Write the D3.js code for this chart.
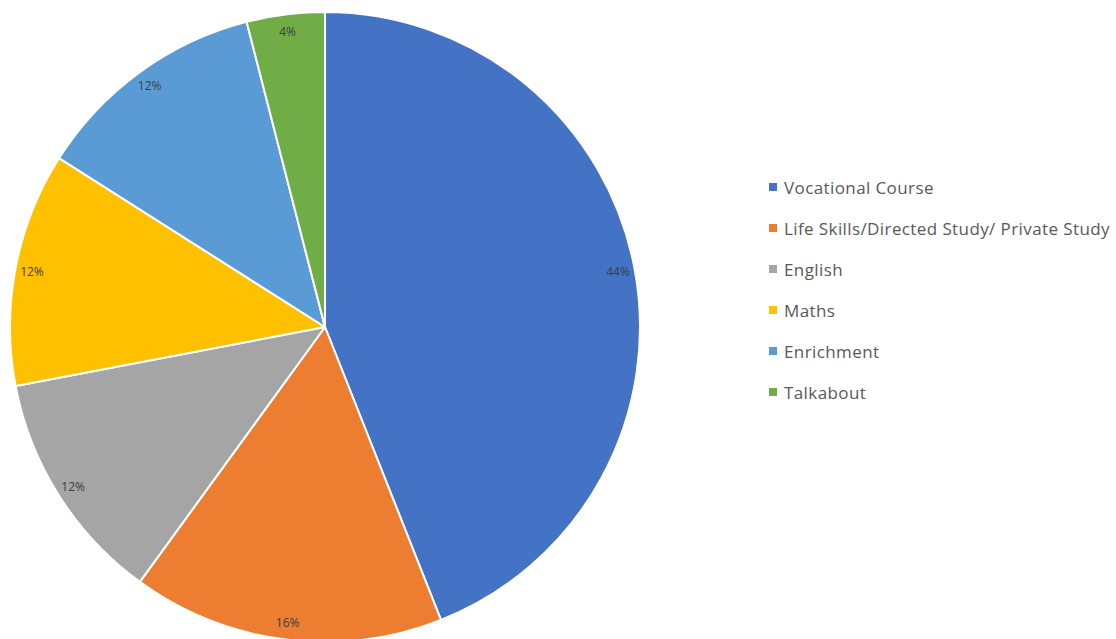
<!DOCTYPE html>
<html>
<head>
<meta charset="utf-8">
<script src="https://cdn.jsdelivr.net/npm/d3@7"></script>
<style>
  html, body { margin: 0; padding: 0; background: #fff; }
  svg { display: block; }
</style>
</head>
<body>
<svg id="chart" width="1116" height="639"></svg>
<script>
// Share of timetable by activity (percent)
const categories = [
  "Vocational Course",
  "Life Skills/Directed Study/ Private Study",
  "English",
  "Maths",
  "Enrichment",
  "Talkabout"
];
const values = [44, 16, 12, 12, 12, 4];
const colors = ["#4472C4", "#ED7D31", "#A5A5A5", "#FFC000", "#5B9BD5", "#70AD47"];

const svg = d3.select("#chart");
const cx = 325, cy = 327, radius = 315;

const data = categories.map((c, i) => ({ name: c, value: values[i], color: colors[i] }));

const pie = d3.pie().value(d => d.value).sort(null);
const arc = d3.arc().innerRadius(0).outerRadius(radius);
const labelR = radius * 0.947;
const labelArc = d3.arc().innerRadius(labelR).outerRadius(labelR);

const g = svg.append("g").attr("transform", `translate(${cx},${cy})`);
const arcs = pie(data);

g.selectAll("path.slice")
  .data(arcs)
  .join("path")
  .attr("class", "slice")
  .attr("d", arc)
  .attr("fill", d => d.data.color)
  .attr("stroke", "#ffffff")
  .attr("stroke-width", 2)
  .attr("stroke-linejoin", "round");

g.selectAll("text.pct")
  .data(arcs)
  .join("text")
  .attr("class", "pct")
  .attr("transform", d => `translate(${labelArc.centroid(d)})`)
  .attr("text-anchor", "middle")
  .attr("dominant-baseline", "central")
  .attr("font-family", "'Open Sans', 'DejaVu Sans', sans-serif")
  .attr("font-size", 12)
  .attr("fill", "#404040")
  .text(d => d.data.value + "%");

// Legend
const legendX = 769, legendY = 187, legendStep = 41;
const legend = svg.append("g");
const items = legend.selectAll("g.item")
  .data(data)
  .join("g")
  .attr("class", "item")
  .attr("transform", (d, i) => `translate(${legendX},${legendY + i * legendStep})`);

items.append("rect")
  .attr("x", 0).attr("y", -4)
  .attr("width", 8).attr("height", 8)
  .attr("fill", d => d.color);

items.append("text")
  .attr("x", 15)
  .attr("y", 0)
  .attr("dominant-baseline", "central")
  .attr("font-family", "'Open Sans', 'DejaVu Sans', sans-serif")
  .attr("font-size", 17)
  .attr("letter-spacing", 0.4)
  .attr("fill", "#595959")
  .text(d => d.name);
</script>
</body>
</html>
